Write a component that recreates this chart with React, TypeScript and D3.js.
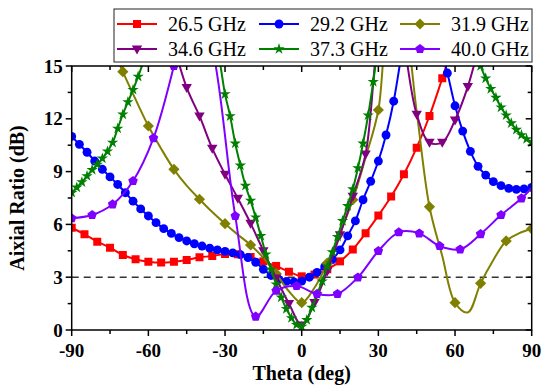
import { useEffect, useRef } from "react";
import * as d3 from "d3";

// theta (deg) and axial ratio (dB) per frequency
const RED_THETA = [-90, -85, -80, -75, -70, -65, -60, -55, -50, -45, -40, -35, -30, -25, -20, -15, -10, -5, 0, 5, 10, 15, 20, 25, 30, 35, 40, 45, 50, 55, 60];
const RED_AR = [5.81, 5.44, 5.02, 4.68, 4.26, 4.02, 3.88, 3.83, 3.88, 3.98, 4.13, 4.2, 4.32, 4.3, 4.15, 3.9, 3.64, 3.31, 3.05, 3.15, 3.45, 3.9, 4.58, 5.5, 6.5, 7.58, 8.85, 10.36, 12.16, 14.3, 16.6];

const BLUE_THETA = [-90, -87, -84, -81, -78, -75, -72, -69, -66, -63, -60, -57, -54, -51, -48, -45, -42, -39, -36, -33, -30, -27, -24, -21, -18, -15, -12, -9, -6, -3, 0, 3, 6, 9, 12, 15, 18, 21, 24, 27, 30, 33, 36, 39, 42, 45, 48, 51, 54, 57, 60, 63, 66, 69, 72, 75, 78, 81, 84, 87, 90];
const BLUE_AR = [11.0, 10.55, 10.1, 9.6, 9.13, 8.7, 8.27, 7.8, 7.32, 6.88, 6.48, 6.1, 5.76, 5.49, 5.25, 5.06, 4.9, 4.77, 4.65, 4.55, 4.47, 4.38, 4.28, 4.12, 3.85, 3.45, 3.1, 2.88, 2.76, 2.73, 2.78, 3.0, 3.27, 3.6, 4.0, 4.55, 5.35, 6.2, 7.4, 8.45, 9.6, 11.08, 13.0, 15.6, 18.0, 19.5, 19.5, 18.0, 16.2, 14.6, 12.74, 11.3, 10.15, 9.3, 8.8, 8.43, 8.2, 8.05, 7.99, 8.02, 8.1];

const OLIVE_THETA = [-90, -85, -80, -75, -70, -65, -60, -55, -50, -45, -40, -35, -30, -25, -20, -15, -10, -5, 0, 5, 10, 15, 20, 25, 30, 35, 40, 45, 50, 55, 60, 65, 70, 75, 80, 85, 90];
const OLIVE_AR = [22, 20.2, 18.3, 16.4, 14.68, 13.1, 11.59, 10.3, 9.13, 8.2, 7.43, 6.7, 6.04, 5.42, 4.83, 4.1, 3.2, 2.2, 1.55, 2.4, 3.8, 5.5, 7.4, 9.8, 12.5, 19.0, 17.6, 12.4, 7.0, 4.2, 1.55, 1.0, 2.65, 3.98, 5.06, 5.49, 5.75];

const PURPLE_THETA = [-55, -50, -45, -40, -35, -30, -25, -20, -15, -10, -5, 0, 5, 10, 15, 20, 25, 30, 35, 40, 45, 50, 55, 60, 65, 70];
const PURPLE_AR = [19.5, 16.2, 13.77, 12.16, 10.32, 8.85, 7.48, 6.06, 4.5, 2.95, 1.5, 0.28, 1.55, 3.35, 5.4, 7.6, 10.0, 16.8, 20.0, 16.3, 12.25, 10.66, 10.66, 11.93, 13.83, 16.5];

const GREEN_THETA = [-90, -88, -86, -84, -82, -80, -78, -76, -74, -72, -70, -68, -66, -64, -62, -60, -58, -56, -50, -42, -36, -34, -32, -30, -28, -26, -24, -22, -20, -18, -16, -14, -12, -10, -8, -6, -4, -2, 0, 2, 4, 6, 8, 10, 12, 14, 16, 18, 20, 22, 24, 26, 28, 30, 36, 46, 56, 64, 68, 70, 72, 74, 76, 78, 80, 82, 84, 86, 88, 90];
const GREEN_AR = [7.8, 8.1, 8.4, 8.75, 9.1, 9.4, 9.75, 10.15, 10.65, 11.45, 12.25, 12.95, 13.65, 14.4, 15.2, 16.0, 16.9, 17.8, 20.0, 20.5, 18.0, 16.6, 15.2, 13.4, 12.15, 10.6, 9.35, 8.2, 7.35, 6.4, 5.35, 4.3, 3.45, 2.6, 1.85, 1.2, 0.68, 0.3, 0.2, 0.57, 1.27, 2.03, 2.77, 3.62, 4.43, 5.3, 6.2, 7.05, 8.0, 9.2, 10.6, 12.2, 14.1, 16.2, 21, 24, 22, 18.5, 16, 15.0, 14.3, 13.7, 13.2, 12.65, 12.2, 11.75, 11.38, 11.08, 10.85, 10.66];

const VIOLET_THETA = [-90, -82, -74, -66, -58, -50, -42, -34, -26, -18, -10, -2, 6, 14, 22, 30, 38, 46, 54, 62, 70, 78, 86, 94];
const VIOLET_AR = [6.35, 6.53, 7.14, 8.47, 10.9, 15.0, 20.0, 15.3, 6.48, 0.76, 2.23, 2.5, 2.05, 2.05, 2.99, 4.49, 5.55, 5.49, 4.77, 4.58, 5.45, 6.53, 7.48, 8.7];

const LABELS = ["26.5 GHz", "29.2 GHz", "31.9 GHz", "34.6 GHz", "37.3 GHz", "40.0 GHz"];
const COLORS = ["#ff0000", "#0000ff", "#808000", "#800080", "#008000", "#8000ff"];

const X_MAJOR = [-90, -60, -30, 0, 30, 60, 90];
const X_MINOR = [-75, -45, -15, 15, 45, 75];
const Y_MAJOR = [0, 3, 6, 9, 12, 15];
const Y_MINOR = [1.5, 4.5, 7.5, 10.5, 13.5];

type Shape = "square" | "circle" | "diamond" | "tridown" | "star" | "pentagon";

const SERIES: { label: string; color: string; theta: number[]; ar: number[]; shape: Shape; every: number }[] = [
  { label: LABELS[0], color: COLORS[0], theta: RED_THETA, ar: RED_AR, shape: "square", every: 1 },
  { label: LABELS[1], color: COLORS[1], theta: BLUE_THETA, ar: BLUE_AR, shape: "circle", every: 1 },
  { label: LABELS[2], color: COLORS[2], theta: OLIVE_THETA, ar: OLIVE_AR, shape: "diamond", every: 2 },
  { label: LABELS[3], color: COLORS[3], theta: PURPLE_THETA, ar: PURPLE_AR, shape: "tridown", every: 1 },
  { label: LABELS[4], color: COLORS[4], theta: GREEN_THETA, ar: GREEN_AR, shape: "star", every: 1 },
  { label: LABELS[5], color: COLORS[5], theta: VIOLET_THETA, ar: VIOLET_AR, shape: "pentagon", every: 1 },
];

function markerPath(shape: Shape): string {
  switch (shape) {
    case "square":
      return d3.symbol(d3.symbolSquare, 64)()!;
    case "circle":
      return d3.symbol(d3.symbolCircle, 62)()!;
    case "diamond":
      return "M0,-5.6L5.6,0L0,5.6L-5.6,0Z";
    case "tridown":
      return "M-5.2,-3.6L5.2,-3.6L0,5.4Z";
    case "star":
      return d3.symbol(d3.symbolStar, 40)()!;
    case "pentagon": {
      const pts = d3.range(5).map((i) => {
        const a = -Math.PI / 2 + (i * 2 * Math.PI) / 5;
        return [5 * Math.cos(a), 5 * Math.sin(a)];
      });
      return "M" + pts.map((p) => p.join(",")).join("L") + "Z";
    }
  }
}

const FONT = "'Liberation Serif', 'Times New Roman', serif";

export default function App() {
  const svgRef = useRef<SVGSVGElement>(null);

  useEffect(() => {
    if (!svgRef.current) return;
    const svg = d3.select(svgRef.current);
    svg.selectAll("*").remove();

    const left = 71.7, right = 531.7, top = 66, bottom = 330;
    const x = d3.scaleLinear().domain([-90, 90]).range([left, right]);
    const y = d3.scaleLinear().domain([0, 15]).range([bottom, top]);

    svg.append("rect").attr("width", 543).attr("height", 388).attr("fill", "#fff");

    svg.append("defs").append("clipPath").attr("id", "plotclip")
      .append("rect").attr("x", left).attr("y", top).attr("width", right - left).attr("height", bottom - top);

    // 3 dB reference line
    svg.append("line")
      .attr("x1", left).attr("x2", right)
      .attr("y1", y(3)).attr("y2", y(3))
      .attr("stroke", "#333").attr("stroke-width", 1.5)
      .attr("stroke-dasharray", "7,5");

    const plot = svg.append("g").attr("clip-path", "url(#plotclip)");
    const line = d3.line<[number, number]>()
      .x((d) => x(d[0]))
      .y((d) => y(d[1]))
      .curve(d3.curveCatmullRom.alpha(0.5));

    SERIES.forEach((s) => {
      const pts: [number, number][] = s.theta.map((t, i) => [t, s.ar[i]]);
      const g = plot.append("g");
      g.append("path")
        .attr("d", line(pts)!)
        .attr("fill", "none")
        .attr("stroke", s.color)
        .attr("stroke-width", 2);
      g.selectAll("path.m")
        .data(pts.filter((_, i) => i % s.every === 0))
        .join("path")
        .attr("class", "m")
        .attr("d", markerPath(s.shape))
        .attr("transform", (d) => `translate(${x(d[0])},${y(d[1])})`)
        .attr("fill", s.color);
    });

    // frame
    svg.append("rect")
      .attr("x", left).attr("y", top)
      .attr("width", right - left).attr("height", bottom - top)
      .attr("fill", "none").attr("stroke", "#000").attr("stroke-width", 1.5);

    const ticks = svg.append("g").attr("stroke", "#000").attr("stroke-width", 1.5);
    [...X_MAJOR.map((v) => [v, 6]), ...X_MINOR.map((v) => [v, 4])].forEach(([v, len]) => {
      ticks.append("line").attr("x1", x(v)).attr("x2", x(v)).attr("y1", bottom).attr("y2", bottom + len);
      ticks.append("line").attr("x1", x(v)).attr("x2", x(v)).attr("y1", top).attr("y2", top + len);
    });
    [...Y_MAJOR.map((v) => [v, 6]), ...Y_MINOR.map((v) => [v, 4])].forEach(([v, len]) => {
      ticks.append("line").attr("x1", left).attr("x2", left - len).attr("y1", y(v)).attr("y2", y(v));
      ticks.append("line").attr("x1", right).attr("x2", right - len).attr("y1", y(v)).attr("y2", y(v));
    });

    svg.selectAll("text.xt")
      .data(X_MAJOR)
      .join("text")
      .attr("class", "xt")
      .attr("x", (d) => x(d))
      .attr("y", 357)
      .attr("text-anchor", "middle")
      .style("font-family", FONT)
      .style("font-weight", "bold")
      .style("font-size", "19px")
      .text((d) => String(d));

    svg.selectAll("text.yt")
      .data(Y_MAJOR)
      .join("text")
      .attr("class", "yt")
      .attr("x", left - 9)
      .attr("y", (d) => y(d))
      .attr("dy", "0.35em")
      .attr("text-anchor", "end")
      .style("font-family", FONT)
      .style("font-weight", "bold")
      .style("font-size", "19px")
      .text((d) => String(d));

    svg.append("text")
      .attr("x", (left + right) / 2)
      .attr("y", 380)
      .attr("text-anchor", "middle")
      .style("font-family", FONT)
      .style("font-weight", "bold")
      .style("font-size", "20px")
      .text("Theta (deg)");

    svg.append("text")
      .attr("transform", `translate(24,${(top + bottom) / 2}) rotate(-90)`)
      .attr("text-anchor", "middle")
      .style("font-family", FONT)
      .style("font-weight", "bold")
      .style("font-size", "20px")
      .text("Aixial Ratio (dB)");

    // legend
    const lg = svg.append("g");
    lg.append("rect")
      .attr("x", 114).attr("y", 9).attr("width", 418).attr("height", 53)
      .attr("fill", "#fff").attr("stroke", "#222").attr("stroke-width", 1);
    const colX = [117, 259, 400];
    const rowY = [24, 49];
    SERIES.forEach((s, i) => {
      const cx = colX[i % 3];
      const cy = rowY[Math.floor(i / 3)];
      lg.append("line")
        .attr("x1", cx).attr("x2", cx + 40).attr("y1", cy).attr("y2", cy)
        .attr("stroke", s.color).attr("stroke-width", 2);
      lg.append("path")
        .attr("d", markerPath(s.shape))
        .attr("transform", `translate(${cx + 20},${cy})`)
        .attr("fill", s.color);
      lg.append("text")
        .attr("x", cx + 51)
        .attr("y", cy)
        .attr("dy", "0.35em")
        .style("font-family", FONT)
        .style("font-size", "20px")
        .text(s.label);
    });
  }, []);

  return (
    <svg
      ref={svgRef}
      width={543}
      height={388}
      style={{ position: "absolute", left: 0, top: 0 }}
    />
  );
}
